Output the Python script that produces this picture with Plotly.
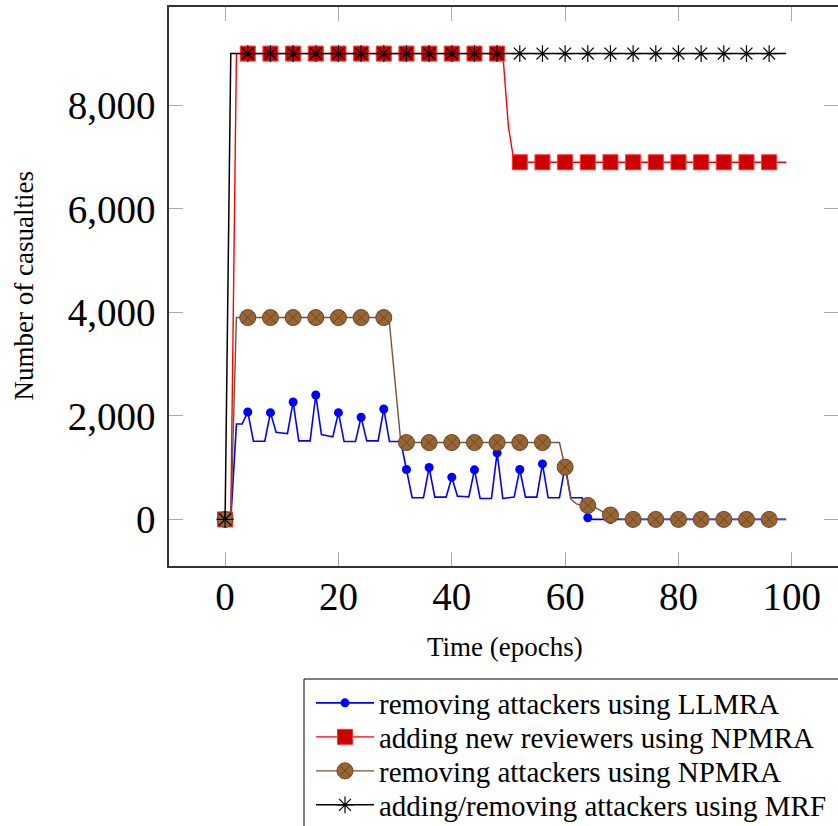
import plotly.graph_objects as go

epochs = list(range(100))

llmra_remove = [
    0, 0, 1844, 1844, 2076, 1510, 1510, 1510, 2063, 1684,
    1670, 1658, 2269, 1517, 1517, 1517, 2404, 1639, 1615, 1594,
    2063, 1504, 1504, 1504, 1973, 1517, 1517, 1517, 2134, 1504,
    1504, 1504, 964, 418, 418, 418, 1003, 431, 431, 431,
    816, 450, 444, 437, 958, 405, 405, 405, 1285, 405,
    418, 431, 964, 431, 431, 431, 1073, 418, 418, 418,
    1040, 418, 418, 418, 32, 0, 0, 0, 0, 0,
    0, 0, 0, 0, 0, 0, 0, 0, 0, 0,
    0, 0, 0, 0, 0, 0, 0, 0, 0, 0,
    0, 0, 0, 0, 0, 0, 0, 0, 0, 0,
]

npmra_add = [
    0, 0, 9000, 9000, 9000, 9000, 9000, 9000, 9000, 9000,
    9000, 9000, 9000, 9000, 9000, 9000, 9000, 9000, 9000, 9000,
    9000, 9000, 9000, 9000, 9000, 9000, 9000, 9000, 9000, 9000,
    9000, 9000, 9000, 9000, 9000, 9000, 9000, 9000, 9000, 9000,
    9000, 9000, 9000, 9000, 9000, 9000, 9000, 9000, 9000, 9000,
    7580, 6900, 6900, 6900, 6900, 6900, 6900, 6900, 6900, 6900,
    6900, 6900, 6900, 6900, 6900, 6900, 6900, 6900, 6900, 6900,
    6900, 6900, 6900, 6900, 6900, 6900, 6900, 6900, 6900, 6900,
    6900, 6900, 6900, 6900, 6900, 6900, 6900, 6900, 6900, 6900,
    6900, 6900, 6900, 6900, 6900, 6900, 6900, 6900, 6900, 6900,
]

npmra_remove = [
    0, 0, 3900, 3900, 3900, 3900, 3900, 3900, 3900, 3900,
    3900, 3900, 3900, 3900, 3900, 3900, 3900, 3900, 3900, 3900,
    3900, 3900, 3900, 3900, 3900, 3900, 3900, 3900, 3900, 3790,
    2700, 1500, 1485, 1485, 1485, 1485, 1485, 1485, 1485, 1485,
    1485, 1485, 1485, 1485, 1485, 1485, 1485, 1485, 1485, 1485,
    1485, 1485, 1485, 1485, 1485, 1485, 1485, 1485, 1485, 1485,
    1010, 390, 300, 270, 270, 240, 190, 120, 85, 20,
    0, 0, 0, 0, 0, 0, 0, 0, 0, 0,
    0, 0, 0, 0, 0, 0, 0, 0, 0, 0,
    0, 0, 0, 0, 0, 0, 0, 0, 0, 0,
]

mrf = [
    0, 9000, 9000, 9000, 9000, 9000, 9000, 9000, 9000, 9000,
    9000, 9000, 9000, 9000, 9000, 9000, 9000, 9000, 9000, 9000,
    9000, 9000, 9000, 9000, 9000, 9000, 9000, 9000, 9000, 9000,
    9000, 9000, 9000, 9000, 9000, 9000, 9000, 9000, 9000, 9000,
    9000, 9000, 9000, 9000, 9000, 9000, 9000, 9000, 9000, 9000,
    9000, 9000, 9000, 9000, 9000, 9000, 9000, 9000, 9000, 9000,
    9000, 9000, 9000, 9000, 9000, 9000, 9000, 9000, 9000, 9000,
    9000, 9000, 9000, 9000, 9000, 9000, 9000, 9000, 9000, 9000,
    9000, 9000, 9000, 9000, 9000, 9000, 9000, 9000, 9000, 9000,
    9000, 9000, 9000, 9000, 9000, 9000, 9000, 9000, 9000, 9000,
]

series_names = [
    "removing attackers using LLMRA",
    "adding new reviewers using NPMRA",
    "removing attackers using NPMRA",
    "adding/removing attackers using MRF",
]
x_ticks = [0, 20, 40, 60, 80, 100]
y_ticks = [0, 2000, 4000, 6000, 8000]
mark_every = 4

styles = [
    dict(line=dict(color="#0000ff", width=1.6),
         marker=dict(symbol="circle", size=9, color="#0000ff", line=dict(width=0))),
    dict(line=dict(color="#ff0000", width=1.4),
         marker=dict(symbol="square", size=15, color="#cc0000", line=dict(color="#ff3333", width=1))),
    dict(line=dict(color="#7a5230", width=1.4),
         marker=dict(symbol="circle-x", size=16, color="#996633", line=dict(color="#6b4423", width=1))),
    dict(line=dict(color="#000000", width=1.5),
         marker=dict(symbol="asterisk-open", size=14, color="#000000", line=dict(color="#000000", width=1.2))),
]

# plot-area geometry (pixels) used to place legend rows / box in paper coords
L, T, W, H = 169, 7, 669, 559
def px_x(p):
    return (p - L) / W
def px_y(p):
    return (T + H - p) / H

legend_keys = ["legend", "legend2", "legend3", "legend4"]
row_centers = [703, 737, 771, 805]

fig = go.Figure()
data = [llmra_remove, npmra_add, npmra_remove, mrf]
for name, ys, st, lk in zip(series_names, data, styles, legend_keys):
    fig.add_trace(go.Scatter(x=epochs, y=ys, mode="lines", line=st["line"],
                             showlegend=False, hoverinfo="skip"))
    mx = epochs[::mark_every]
    my = ys[::mark_every]
    fig.add_trace(go.Scatter(x=mx, y=my, mode="markers", marker=st["marker"],
                             showlegend=False))
    fig.add_trace(go.Scatter(x=[None], y=[None], mode="lines+markers", name=name,
                             line=st["line"], marker=st["marker"], showlegend=True,
                             legend=lk))

serif = "Liberation Serif, DejaVu Serif, serif"
axis_common = dict(
    showgrid=False, zeroline=False, showline=True, linecolor="#333333", linewidth=1.5,
    mirror="ticks", ticks="inside", ticklen=14, tickwidth=1, tickcolor="#aaaaaa",
    tickfont=dict(family=serif, size=39, color="black"),
)

legend_layouts = {}
for lk, yc in zip(legend_keys, row_centers):
    legend_layouts[lk] = dict(
        x=px_x(311), y=px_y(yc), xanchor="left", yanchor="middle",
        borderwidth=0, bgcolor="rgba(0,0,0,0)", itemwidth=58,
        font=dict(family=serif, size=29, color="black"),
    )

fig.update_layout(
    width=838, height=826,
    margin=dict(l=L, r=838 - L - W, t=T, b=826 - T - H, autoexpand=False),
    paper_bgcolor="white", plot_bgcolor="white",
    xaxis=dict(range=[-9.9, 108.15], tickvals=x_ticks, ticklabelstandoff=-5, **axis_common),
    yaxis=dict(range=[-900, 9900], tickvals=y_ticks, tickformat=",d", ticklabelstandoff=4,
               **axis_common),
    shapes=[dict(type="rect", xref="paper", yref="paper",
                 x0=px_x(304), x1=px_x(846), y0=px_y(679), y1=px_y(832),
                 line=dict(color="black", width=1), fillcolor="rgba(0,0,0,0)")],
    annotations=[
        dict(text="Time (epochs)", xref="paper", yref="paper", x=px_x(505), y=px_y(647),
             xanchor="center", yanchor="middle", showarrow=False,
             font=dict(family=serif, size=27, color="black")),
        dict(text="Number of casualties", xref="paper", yref="paper", x=px_x(23), y=0.5,
             xanchor="center", yanchor="middle", showarrow=False, textangle=-90,
             font=dict(family=serif, size=27, color="black")),
    ],
    **legend_layouts,
)

fig.write_html("out.html")
